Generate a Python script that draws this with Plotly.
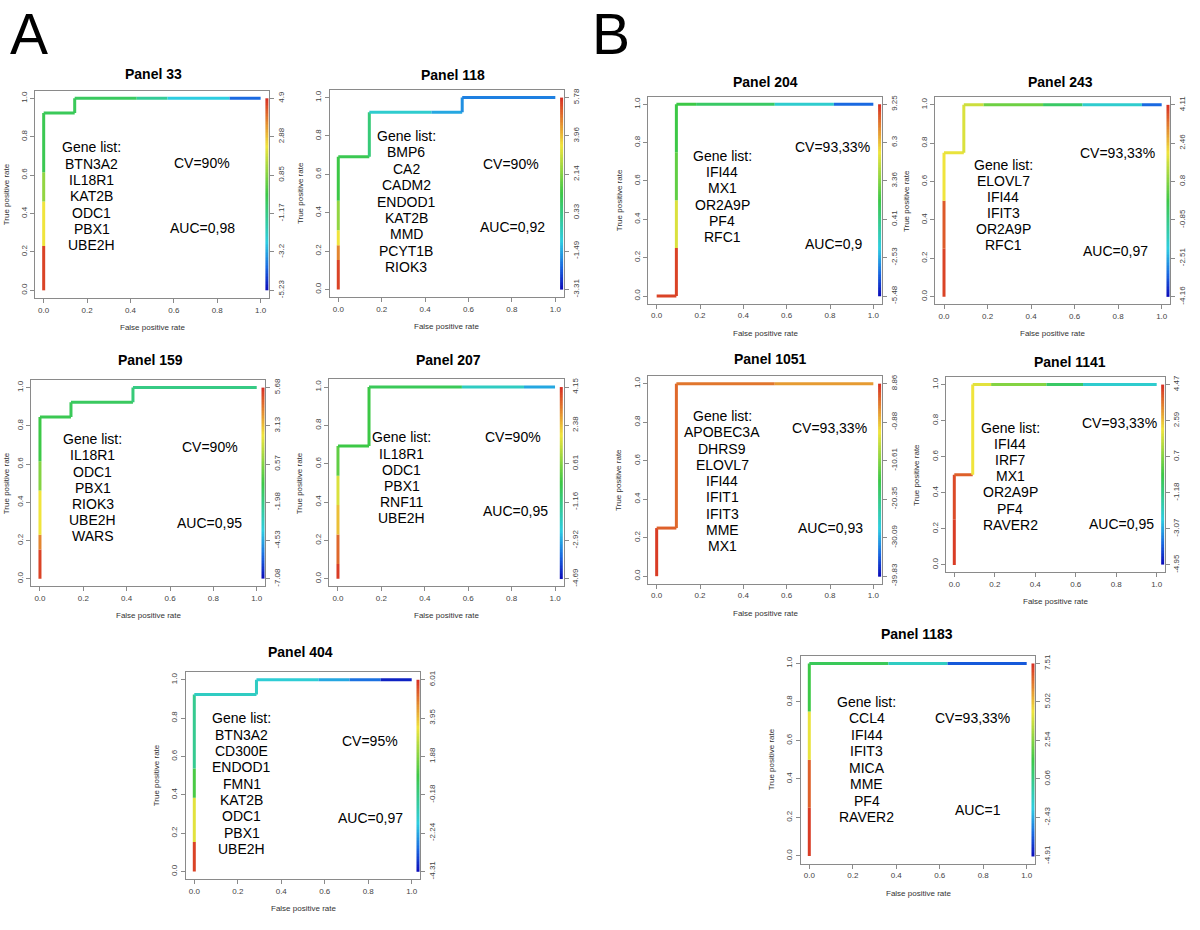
import numpy as np
import plotly.graph_objects as go
from plotly.colors import sample_colorscale

# ---------------- DATA ----------------
PANEL_NAMES = ["Panel 33", "Panel 118", "Panel 204", "Panel 243", "Panel 159",
               "Panel 207", "Panel 1051", "Panel 1141", "Panel 404", "Panel 1183"]

# ROC points (false positive rate, true positive rate) and the relative cutoff
# (0 = lowest cutoff / blue, 1 = highest cutoff / red) of the segment ending at each point
FPR_33 = [0, 0, 0, 0, 0, 0.143, 0.143, 0.429, 0.571, 0.857, 1.0]
TPR_33 = [0, 0.231, 0.462, 0.615, 0.923, 0.923, 1.0, 1.0, 1.0, 1.0, 1.0]
CUT_33 = [1.0, 0.97, 0.75, 0.62, 0.48, 0.47, 0.47, 0.46, 0.37, 0.25, 0.12]

FPR_118 = [0, 0, 0, 0, 0, 0, 0.143, 0.143, 0.429, 0.571, 0.571, 1.0]
TPR_118 = [0, 0.154, 0.231, 0.308, 0.462, 0.692, 0.692, 0.923, 0.923, 0.923, 1.0, 1.0]
CUT_118 = [1.0, 0.97, 0.88, 0.75, 0.62, 0.5, 0.48, 0.42, 0.28, 0.2, 0.17, 0.15]

FPR_204 = [0, 0.091, 0.091, 0.091, 0.091, 0.091, 0.182, 0.545, 0.818, 1.0]
TPR_204 = [0, 0, 0.25, 0.5, 0.75, 1.0, 1.0, 1.0, 1.0, 1.0]
CUT_204 = [1.0, 0.97, 0.97, 0.72, 0.55, 0.5, 0.5, 0.45, 0.28, 0.12]

FPR_243 = [0, 0, 0, 0, 0.091, 0.091, 0.182, 0.455, 0.636, 0.909, 1.0]
TPR_243 = [0, 0.25, 0.5, 0.75, 0.75, 1.0, 1.0, 1.0, 1.0, 1.0, 1.0]
CUT_243 = [1.0, 0.97, 0.94, 0.75, 0.74, 0.72, 0.7, 0.57, 0.45, 0.28, 0.12]

FPR_159 = [0, 0, 0, 0, 0, 0, 0.143, 0.143, 0.429, 0.429, 1.0]
TPR_159 = [0, 0.154, 0.231, 0.462, 0.615, 0.846, 0.846, 0.923, 0.923, 1.0, 1.0]
CUT_159 = [1.0, 0.97, 0.88, 0.75, 0.6, 0.5, 0.48, 0.47, 0.46, 0.42, 0.4]

FPR_207 = [0, 0, 0, 0, 0, 0, 0.143, 0.143, 0.571, 0.857, 1.0]
TPR_207 = [0, 0.077, 0.231, 0.385, 0.538, 0.692, 0.692, 1.0, 1.0, 1.0, 1.0]
CUT_207 = [1.0, 0.98, 0.92, 0.8, 0.72, 0.55, 0.5, 0.5, 0.47, 0.3, 0.2]

FPR_1051 = [0, 0, 0.091, 0.091, 0.545, 1.0]
TPR_1051 = [0, 0.25, 0.25, 1.0, 1.0, 1.0]
CUT_1051 = [1.0, 0.98, 0.93, 0.92, 0.9, 0.85]

FPR_1141 = [0, 0, 0, 0.091, 0.091, 0.182, 0.455, 0.636, 1.0]
TPR_1141 = [0, 0.25, 0.5, 0.5, 1.0, 1.0, 1.0, 1.0, 1.0]
CUT_1141 = [1.0, 0.98, 0.96, 0.93, 0.75, 0.73, 0.6, 0.45, 0.28]

FPR_404 = [0, 0, 0, 0, 0, 0.286, 0.286, 0.571, 0.714, 0.857, 1.0]
TPR_404 = [0, 0.154, 0.385, 0.538, 0.923, 0.923, 1.0, 1.0, 1.0, 1.0, 1.0]
CUT_404 = [1.0, 0.97, 0.73, 0.52, 0.38, 0.3, 0.3, 0.27, 0.2, 0.13, 0.03]

FPR_1183 = [0, 0, 0, 0, 0, 0.364, 0.636, 1.0]
TPR_1183 = [0, 0.25, 0.5, 0.75, 1.0, 1.0, 1.0, 1.0]
CUT_1183 = [1.0, 0.98, 0.93, 0.74, 0.5, 0.47, 0.3, 0.1]

# cutoff tick labels on the colour bar, bottom (0.0) to top (1.0)
TICKS_33 = ["-5.23", "-3.2", "-1.17", "0.85", "2.88", "4.9"]
TICKS_118 = ["-3.31", "-1.49", "0.33", "2.14", "3.96", "5.78"]
TICKS_204 = ["-5.48", "-2.53", "0.41", "3.36", "6.3", "9.25"]
TICKS_243 = ["-4.16", "-2.51", "-0.85", "0.8", "2.46", "4.11"]
TICKS_159 = ["-7.08", "-4.53", "-1.98", "0.57", "3.13", "5.68"]
TICKS_207 = ["-4.69", "-2.92", "-1.16", "0.61", "2.38", "4.15"]
TICKS_1051 = ["-39.83", "-30.09", "-20.35", "-10.61", "-0.88", "8.86"]
TICKS_1141 = ["-4.95", "-3.07", "-1.18", "0.7", "2.59", "4.47"]
TICKS_404 = ["-4.31", "-2.24", "-0.18", "1.88", "3.95", "6.01"]
TICKS_1183 = ["-4.91", "-2.43", "0.06", "2.54", "5.02", "7.51"]

GENES_33 = ["BTN3A2", "IL18R1", "KAT2B", "ODC1", "PBX1", "UBE2H"]
GENES_118 = ["BMP6", "CA2", "CADM2", "ENDOD1", "KAT2B", "MMD", "PCYT1B", "RIOK3"]
GENES_204 = ["IFI44", "MX1", "OR2A9P", "PF4", "RFC1"]
GENES_243 = ["ELOVL7", "IFI44", "IFIT3", "OR2A9P", "RFC1"]
GENES_159 = ["IL18R1", "ODC1", "PBX1", "RIOK3", "UBE2H", "WARS"]
GENES_207 = ["IL18R1", "ODC1", "PBX1", "RNF11", "UBE2H"]
GENES_1051 = ["APOBEC3A", "DHRS9", "ELOVL7", "IFI44", "IFIT1", "IFIT3", "MME", "MX1"]
GENES_1141 = ["IFI44", "IRF7", "MX1", "OR2A9P", "PF4", "RAVER2"]
GENES_404 = ["BTN3A2", "CD300E", "ENDOD1", "FMN1", "KAT2B", "ODC1", "PBX1", "UBE2H"]
GENES_1183 = ["CCL4", "IFI44", "IFIT3", "MICA", "MME", "PF4", "RAVER2"]

CV_LABELS = ["CV=90%", "CV=90%", "CV=93,33%", "CV=93,33%", "CV=90%",
             "CV=90%", "CV=93,33%", "CV=93,33%", "CV=95%", "CV=93,33%"]
AUC_LABELS = ["AUC=0,98", "AUC=0,92", "AUC=0,9", "AUC=0,97", "AUC=0,95",
              "AUC=0,95", "AUC=0,93", "AUC=0,95", "AUC=0,97", "AUC=1"]

AXIS_TICKS = [0.0, 0.2, 0.4, 0.6, 0.8, 1.0]
AXIS_TICK_TEXT = ["0.0", "0.2", "0.4", "0.6", "0.8", "1.0"]

DATA = [
    (FPR_33, TPR_33, CUT_33, TICKS_33, GENES_33),
    (FPR_118, TPR_118, CUT_118, TICKS_118, GENES_118),
    (FPR_204, TPR_204, CUT_204, TICKS_204, GENES_204),
    (FPR_243, TPR_243, CUT_243, TICKS_243, GENES_243),
    (FPR_159, TPR_159, CUT_159, TICKS_159, GENES_159),
    (FPR_207, TPR_207, CUT_207, TICKS_207, GENES_207),
    (FPR_1051, TPR_1051, CUT_1051, TICKS_1051, GENES_1051),
    (FPR_1141, TPR_1141, CUT_1141, TICKS_1141, GENES_1141),
    (FPR_404, TPR_404, CUT_404, TICKS_404, GENES_404),
    (FPR_1183, TPR_1183, CUT_1183, TICKS_1183, GENES_1183),
]

# ---------------- LAYOUT (pixel positions) ----------------
W, H = 1200, 930
# plot box: left, top, right, bottom
BOXES = [
    (35, 89, 269.3, 297.3),
    (329.6, 88.3, 564, 296.4),
    (648, 95, 882, 303),
    (935.3, 95.6, 1170.4, 303.7),
    (31.3, 379.6, 265.4, 587),
    (329.3, 379, 563.7, 587),
    (648, 375.6, 882, 584.4),
    (946.2, 377, 1164.8, 572.6),
    (185.6, 673, 420.4, 881),
    (800.6, 656.6, 1035.4, 865.4),
]
TITLE_POS = [(153, 72), (452.7, 73), (765.7, 80), (1060, 80), (150, 359.3),
             (448.3, 359.3), (770, 358.3), (1070, 361.7), (300, 653.3), (916.7, 635)]
GENE_POS = [(91.7, 146, 16.4), (406, 134.5, 16.5), (722.3, 154.5, 16.3), (1003.3, 163.3, 16.2),
            (92.7, 439, 16.3), (401.7, 437.3, 16.25), (722, 416, 16.3), (1010, 427.7, 16.2),
            (241.7, 719.5, 16.4), (866.7, 702.7, 16.6)]
CV_POS = [(202, 162), (511.3, 162.7), (832.3, 146), (1117.3, 151.7), (210, 446.7),
          (513.3, 437.3), (829.3, 428.3), (1119.3, 422.7), (370, 741.7), (972.7, 719.3)]
AUC_POS = [(202, 227), (512.3, 225.7), (833, 243), (1115, 250), (209.3, 523.3),
           (515, 511.7), (830.7, 528.3), (1121.7, 524.3), (370, 819.3), (977.7, 811)]

RAINBOW = [[0.0, "rgb(10,10,185)"], [0.12, "rgb(25,105,225)"], [0.25, "rgb(45,205,225)"],
           [0.5, "rgb(60,200,70)"], [0.75, "rgb(240,228,60)"], [1.0, "rgb(215,45,35)"]]

FONT = "Liberation Sans, Arial, sans-serif"
BOX_COLOR = "#8a8a8a"
TICK_FONT = dict(family=FONT, size=8, color="#444444")


def fx(px):
    return px / W


def fy(py):
    return 1 - py / H


fig = go.Figure()
annotations = []
layout_axes = {}

for i, (fpr, tpr, cut, cticks, genes) in enumerate(DATA):
    k = i + 1
    xs = "" if k == 1 else str(k)
    xref, yref = "x" + xs, "y" + xs
    rk = k + 10
    l, t, r, b = BOXES[i]

    # colour bar along the right side (continuous rainbow of the cutoff range),
    # drawn on the right-hand cutoff axis
    nbar = 120
    yedges = np.linspace(0, 1, nbar + 1)
    zc = ((yedges[:-1] + yedges[1:]) / 2).reshape(-1, 1)
    fig.add_trace(go.Heatmap(
        z=zc, x=[1.022, 1.038], y=yedges, colorscale=RAINBOW, zmin=0, zmax=1,
        showscale=False, hoverinfo="skip", xaxis=xref, yaxis="y" + str(rk)))

    # ROC curve, coloured by cutoff
    for j in range(1, len(fpr)):
        if fpr[j] == fpr[j - 1] and tpr[j] == tpr[j - 1]:
            continue
        col = sample_colorscale(RAINBOW, [cut[j]])[0]
        fig.add_trace(go.Scatter(
            x=[fpr[j - 1], fpr[j]], y=[tpr[j - 1], tpr[j]], mode="lines",
            line=dict(color=col, width=3), hoverinfo="skip", showlegend=False,
            xaxis=xref, yaxis=yref))

    common = dict(range=[-0.04, 1.04], showgrid=False, zeroline=False,
                  ticks="outside", ticklen=4, tickcolor=BOX_COLOR, tickwidth=1,
                  tickvals=AXIS_TICKS, ticktext=AXIS_TICK_TEXT, tickfont=TICK_FONT,
                  fixedrange=True)
    layout_axes["xaxis" + xs] = dict(common, domain=[fx(l), fx(r)], anchor=yref,
                                     showline=True, mirror=True, linecolor=BOX_COLOR,
                                     linewidth=1)
    layout_axes["yaxis" + xs] = dict(common, domain=[fy(b), fy(t)], anchor=xref,
                                     showline=True, mirror=True, linecolor=BOX_COLOR,
                                     linewidth=1, tickangle=-90)
    layout_axes["yaxis" + str(rk)] = dict(common, overlaying=yref, anchor=xref,
                                          side="right", showline=False,
                                          ticktext=cticks, tickangle=-90)

    # titles
    tx, ty = TITLE_POS[i]
    annotations.append(dict(x=fx(tx), y=fy(ty), xref="paper", yref="paper",
                            text="<b>" + PANEL_NAMES[i] + "</b>", showarrow=False,
                            font=dict(family=FONT, size=14, color="#000"),
                            xanchor="center", yanchor="middle"))
    # axis titles
    annotations.append(dict(x=fx((l + r) / 2), y=fy(b + 29.5), xref="paper", yref="paper",
                            text="False positive rate", showarrow=False,
                            font=dict(family=FONT, size=8, color="#333"),
                            xanchor="center", yanchor="middle"))
    annotations.append(dict(x=fx(max(l - 29, 6)), y=fy((t + b) / 2), xref="paper", yref="paper",
                            text="True positive rate", showarrow=False, textangle=-90,
                            font=dict(family=FONT, size=8, color="#333"),
                            xanchor="center", yanchor="middle"))
    # gene list
    gx, gy, gdy = GENE_POS[i]
    for n, line in enumerate(["Gene list:"] + genes):
        annotations.append(dict(x=fx(gx), y=fy(gy + n * gdy), xref="paper", yref="paper",
                                text=line, showarrow=False,
                                font=dict(family=FONT, size=14, color="#000"),
                                xanchor="center", yanchor="middle"))
    cx, cy = CV_POS[i]
    annotations.append(dict(x=fx(cx), y=fy(cy), xref="paper", yref="paper",
                            text=CV_LABELS[i], showarrow=False,
                            font=dict(family=FONT, size=14, color="#000"),
                            xanchor="center", yanchor="middle"))
    ax_, ay_ = AUC_POS[i]
    annotations.append(dict(x=fx(ax_), y=fy(ay_), xref="paper", yref="paper",
                            text=AUC_LABELS[i], showarrow=False,
                            font=dict(family=FONT, size=14, color="#000"),
                            xanchor="center", yanchor="middle"))

# big section letters
for letter, (lx, ly) in [("A", (28.5, 32.5)), ("B", (610.5, 32.5))]:
    annotations.append(dict(x=fx(lx), y=fy(ly), xref="paper", yref="paper",
                            text=letter, showarrow=False,
                            font=dict(family=FONT, size=57, color="#000"),
                            xanchor="center", yanchor="middle"))

fig.update_layout(**layout_axes)
fig.update_layout(width=W, height=H, margin=dict(l=0, r=0, t=0, b=0),
                  paper_bgcolor="white", plot_bgcolor="white", showlegend=False,
                  annotations=annotations)

fig.write_html("out.html", config={"displayModeBar": False},
               post_script="document.body.style.margin='0px';document.body.style.padding='0px';")
